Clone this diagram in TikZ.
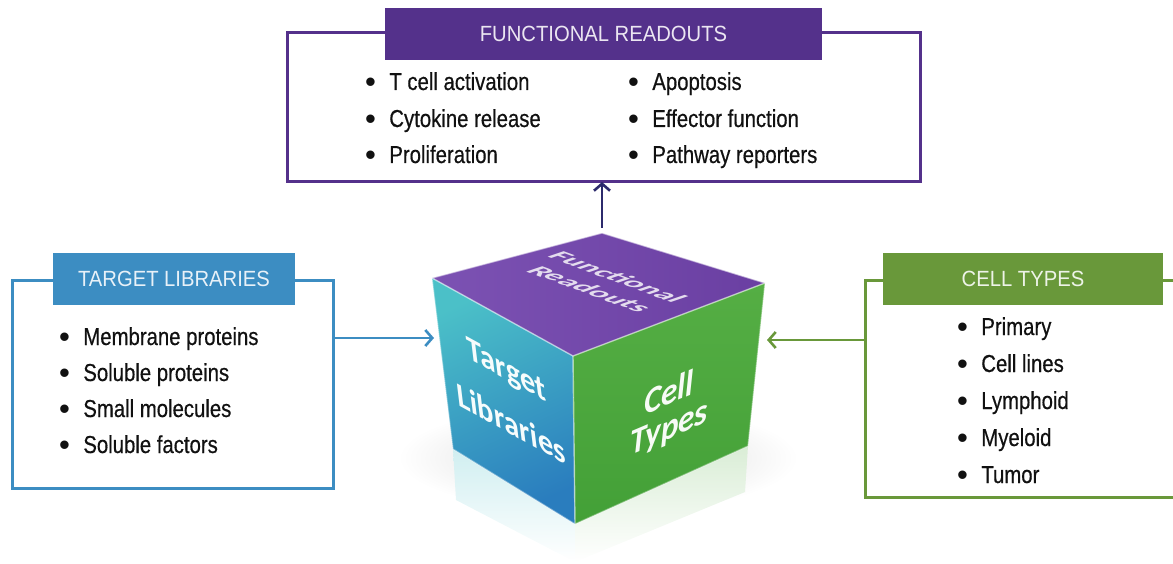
\documentclass[tikz,border=0pt]{standalone}
\usepackage{fontspec}
\setmainfont{Liberation Sans}
\newfontfamily\listfont{Liberation Sans}[FakeStretch=0.83,FakeBold=0.5]
\newfontfamily\headfont{Liberation Sans}[FakeStretch=0.92]
\newfontfamily\bulfont{Liberation Sans}
\newfontfamily\cubefont{Carlito}
\usetikzlibrary{arrows.meta}

\definecolor{frpurple}{HTML}{54318B}
\definecolor{frnavy}{HTML}{2C2A6C}
\definecolor{tlblue}{HTML}{3C8DC2}
\definecolor{ctgreen}{HTML}{69983A}
\definecolor{txtdark}{HTML}{111111}
\definecolor{topface}{HTML}{6A3FA2}
\definecolor{topfacelt}{HTML}{7C52B3}
\definecolor{leftteal}{HTML}{4BC0C8}
\definecolor{leftblue}{HTML}{2A7DBE}
\definecolor{rightgreen}{HTML}{55AE44}
\definecolor{rightgreendk}{HTML}{43A037}

% bullet mark in front of every list entry
\newcommand\bul{\raisebox{-2.5pt}{\bulfont\fontsize{31}{31}\selectfont •}\hspace{13.5pt}}

\tikzset{
  panel/.style={draw=#1, line width=3pt, fill=none, inner sep=0pt, outer sep=0pt},
  hdr/.style={fill=#1, draw=none, inner sep=0pt, outer sep=0pt,
    font=\headfont\fontsize{22}{26}\selectfont, text=white!88!#1},
  item/.style={inner sep=0pt, outer sep=0pt, anchor=base west,
    font=\listfont\fontsize{24.5}{28}\selectfont, text=txtdark},
  conn/.style={draw=#1, line width=2.6pt, -{Straight Barb[length=7pt,width=16pt]}},
  facetext/.style={inner sep=0pt, transform shape, anchor=center},
  cubeedge/.style={draw=white, draw opacity=0.55, line width=1.4pt, line join=round}
}

\begin{document}
\begin{tikzpicture}[x=1pt,y=-1pt]
\useasboundingbox (0,0) rectangle (1173,564);

% ---------- cube corners ----------
\coordinate (cT)  at (602,233);
\coordinate (cL)  at (432,278);
\coordinate (cR)  at (765,283);
\coordinate (cF)  at (573,356);
\coordinate (cLB) at (453,449);
\coordinate (cFB) at (575,524);
\coordinate (cRB) at (748,446);

% soft shadow and reflection under the cube
\shade[inner color=black!16, outer color=white] (598,458) ellipse [x radius=200, y radius=55];
\shade[top color=leftteal!26!white, bottom color=white]
  (cLB) -- (cFB) -- (575,562) -- (456,500) -- cycle;
\shade[top color=rightgreen!22!white, bottom color=white]
  (cFB) -- (cRB) -- (745,492) -- (575,562) -- cycle;

% cube faces
\shade[left color=topfacelt, right color=topface] (cT) -- (cR) -- (cF) -- (cL) -- cycle;
\shade[top color=leftteal, bottom color=leftblue, shading angle=25] (cL) -- (cF) -- (cFB) -- (cLB) -- cycle;
\shade[top color=rightgreen, bottom color=rightgreendk] (cF) -- (cR) -- (cRB) -- (cFB) -- cycle;
\draw[cubeedge] (cT) -- (cR) -- (cF) -- (cL) -- cycle;
\draw[cubeedge] (cF) -- (cFB);
\draw[cubeedge, draw opacity=0.35] (cL) -- (cLB) -- (cFB) -- (cRB) -- (cR);

% face labels
\begin{scope}[shift={(618,277)}, cm={0.939,-0.345,0.80,0.27,(0,0)}]
  \node[facetext, font=\cubefont\bfseries\fontsize{31}{34}\selectfont, text=white!82!topface] (fr1face) at (0,0) {Functional};
\end{scope}
\begin{scope}[shift={(590,289)}, cm={0.939,-0.345,0.80,0.27,(0,0)}]
  \node[facetext, font=\cubefont\bfseries\fontsize{31}{34}\selectfont, text=white!82!topface] (fr2face) at (0,0) {Readouts};
\end{scope}
\begin{scope}[shift={(507,372)}, cm={0.876,-0.482,-0.121,0.993,(0,0)}]
  \node[facetext, font=\cubefont\bfseries\fontsize{35}{40}\selectfont, text=white!95!leftteal] (tl1face) at (0,0) {Target};
\end{scope}
\begin{scope}[shift={(511,423)}, cm={0.876,-0.482,-0.121,0.993,(0,0)}]
  \node[facetext, font=\cubefont\bfseries\fontsize{35}{40}\selectfont, text=white!95!leftteal] (tl2face) at (0,0) {Libraries};
\end{scope}
\begin{scope}[shift={(669,392)}, cm={0.921,0.390,0,1,(0,0)}]
  \node[facetext, font=\cubefont\bfseries\itshape\fontsize{36}{40}\selectfont, text=white!95!rightgreen] (ct1face) at (0,0) {Cell};
\end{scope}
\begin{scope}[shift={(669,430)}, cm={0.921,0.390,0,1,(0,0)}]
  \node[facetext, font=\cubefont\bfseries\itshape\fontsize{36}{40}\selectfont, text=white!95!rightgreen] (ct2face) at (0,0) {Types};
\end{scope}

% ---------- functional readouts panel ----------
\node[panel=frpurple, minimum width=633pt, minimum height=149pt] (frbox) at (603.5,107.5) {};
\node[hdr=frpurple, minimum width=437pt, minimum height=52pt] (frhead) at (603.5,34) {FUNCTIONAL READOUTS};
\node[item] (fra) at (365,90)  {\bul T cell activation};
\node[item] (frb) at (365,127) {\bul Cytokine release};
\node[item] (frc) at (365,163) {\bul Proliferation};
\node[item] (frd) at (628,90)  {\bul Apoptosis};
\node[item] (fre) at (628,127) {\bul Effector function};
\node[item] (frf) at (628,163) {\bul Pathway reporters};

% ---------- target libraries panel ----------
\node[panel=tlblue, minimum width=321pt, minimum height=208pt] (tlbox) at (172.5,384) {};
\node[hdr=tlblue, minimum width=242pt, minimum height=52pt] (tlhead) at (174,279) {TARGET LIBRARIES};
\node[item] (tla) at (59,345) {\bul Membrane proteins};
\node[item] (tlb) at (59,381) {\bul Soluble proteins};
\node[item] (tlc) at (59,417) {\bul Small molecules};
\node[item] (tld) at (59,453) {\bul Soluble factors};

% ---------- cell types panel (runs past the right edge) ----------
\node[panel=ctgreen, minimum width=330pt, minimum height=217pt] (ctbox) at (1030,388.5) {};
\node[hdr=ctgreen, minimum width=280pt, minimum height=52pt] (cthead) at (1023,279) {CELL TYPES};
\node[item] (cta) at (957,335) {\bul Primary};
\node[item] (ctb) at (957,372) {\bul Cell lines};
\node[item] (ctc) at (957,409) {\bul Lymphoid};
\node[item] (ctd) at (957,446) {\bul Myeloid};
\node[item] (cte) at (957,483) {\bul Tumor};

% ---------- connectors ----------
\coordinate (cubeup) at (602,228);
\coordinate (tlin) at (434,338);
\coordinate (ctin) at (767,340);
\draw[conn=frnavy] (cubeup) -- (cubeup |- frbox.south);
\draw[conn=tlblue] (tlin -| tlbox.east) -- (tlin);
\draw[conn=ctgreen] (ctin -| ctbox.west) -- (ctin);
\end{tikzpicture}
\end{document}
